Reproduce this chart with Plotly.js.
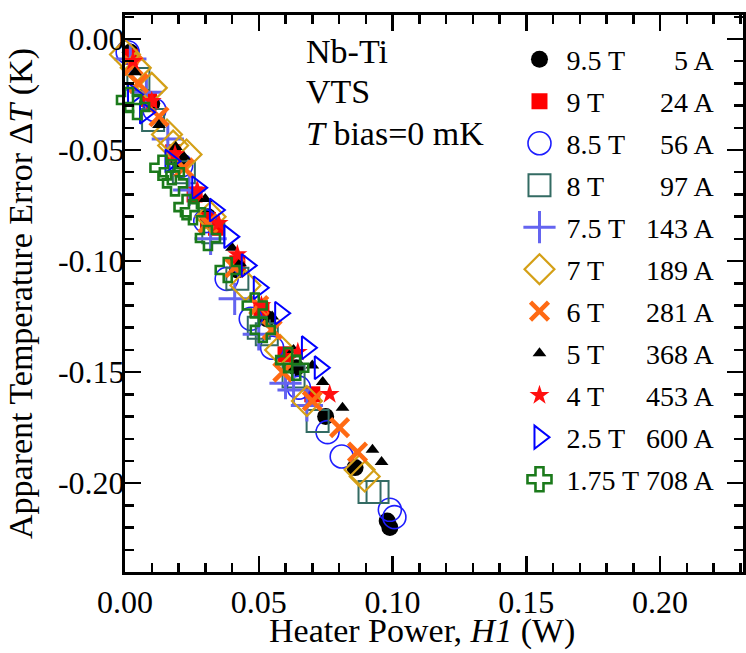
<!DOCTYPE html>
<html>
<head>
<meta charset="utf-8">
<script src="https://cdn.plot.ly/plotly-3.0.1.min.js"></script>
<style>html,body{margin:0;padding:0;background:#fff;}#chart{width:746px;height:653px;}</style>
</head>
<body>
<div id="chart"></div>
<script>
// ---- legend labels ----
const fields   = ['9.5 T','9 T','8.5 T','8 T','7.5 T','7 T','6 T','5 T','4 T','2.5 T','1.75 T'];
const currents = ['5 A','24 A','56 A','97 A','143 A','189 A','281 A','368 A','453 A','600 A','708 A'];

// ---- tick labels ----
const xTickVals = [0, 0.05, 0.10, 0.15, 0.20];
const xTickText = ['0.00', '0.05', '0.10', '0.15', '0.20'];
const yTickVals = [0, -0.05, -0.10, -0.15, -0.20];
const yTickText = ['0.00', '-0.05', '-0.10', '-0.15', '-0.20'];

// ---- data: heater power H1 (W) vs apparent temperature error dT (K) ----
const x95 = [0.002, 0.010, 0.020, 0.031, 0.042, 0.053, 0.064, 0.075, 0.086, 0.098, 0.099];
const y95 = [-0.006, -0.029, -0.054, -0.080, -0.104, -0.126, -0.148, -0.170, -0.193, -0.217, -0.220];

const x9 = [0.002, 0.009, 0.018, 0.026, 0.031, 0.034, 0.042, 0.051, 0.060, 0.070];
const y9 = [-0.008, -0.027, -0.051, -0.070, -0.0815, -0.085, -0.101, -0.122, -0.142, -0.160];

const x85 = [0.001, 0.011, 0.021, 0.030, 0.038, 0.047, 0.055, 0.065, 0.0757, 0.081, 0.099, 0.1007];
const y85 = [-0.006, -0.032, -0.057, -0.082, -0.108, -0.126, -0.139, -0.157, -0.177, -0.188, -0.212, -0.2153];

const x8 = [-0.002, 0.005, 0.0105, 0.022, 0.033, 0.042, 0.050, 0.053, 0.063, 0.072, 0.0914, 0.0944];
const y8 = [-0.004, -0.018, -0.0365, -0.060, -0.087, -0.108, -0.130, -0.133, -0.152, -0.172, -0.204, -0.204];

const x75 = [0.002, 0.008, 0.016, 0.024, 0.032, 0.041, 0.050, 0.060, 0.063, 0.068];
const y75 = [-0.009, -0.024, -0.045, -0.068, -0.090, -0.117, -0.133, -0.155, -0.158, -0.165];

const x7 = [0.000, 0.004, 0.010, 0.0157, 0.018, 0.023, 0.032, 0.045, 0.058, 0.068, 0.0877, 0.0896];
const y7 = [-0.007, -0.013, -0.022, -0.043, -0.048, -0.052, -0.080, -0.111, -0.140, -0.163, -0.194, -0.197];

const x6 = [0.003, 0.005, 0.0127, 0.022, 0.031, 0.041, 0.050, 0.055, 0.059, 0.070, 0.0802, 0.0869];
const y6 = [-0.012, -0.020, -0.035, -0.058, -0.083, -0.103, -0.120, -0.131, -0.150, -0.163, -0.175, -0.186];

const x5 = [0.0037, 0.0127, 0.019, 0.022, 0.030, 0.040, 0.043, 0.055, 0.063, 0.070, 0.0739, 0.0813, 0.0925, 0.0959];
const y5 = [-0.015, -0.0387, -0.0486, -0.053, -0.072, -0.094, -0.101, -0.125, -0.140, -0.147, -0.1545, -0.166, -0.185, -0.1905];

const x4 = [0.003, 0.010, 0.0187, 0.027, 0.035, 0.042, 0.051, 0.0646, 0.0765];
const y4 = [-0.010, -0.028, -0.052, -0.068, -0.083, -0.097, -0.120, -0.141, -0.160];

const x25 = [0.003, 0.0075, 0.017, 0.027, 0.0336, 0.039, 0.0455, 0.050, 0.058, 0.068, 0.0728];
const y25 = [-0.025, -0.033, -0.055, -0.067, -0.077, -0.089, -0.102, -0.112, -0.1235, -0.139, -0.148];

const x175 = [0.0015, 0.0045, 0.014, 0.0175, 0.0187, 0.023, 0.0254, 0.031, 0.0384, 0.0485, 0.0515, 0.061, 0.064];
const y175 = [-0.0275, -0.0306, -0.058, -0.060, -0.065, -0.0757, -0.078, -0.0896, -0.104, -0.120, -0.131, -0.1446, -0.148];

// ---- styles ----
const FONT = '"Liberation Serif", "Times New Roman", Times, serif';
const series = [
  {x: x95,  y: y95,  symbol: 'circle',              color: '#000000', size: 17, lw: 0},
  {x: x9,   y: y9,   symbol: 'square',              color: '#FF0000', size: 16, lw: 0},
  {x: x85,  y: y85,  symbol: 'circle-open',         color: '#1E1EFF', size: 23, lw: 1.6},
  {x: x8,   y: y8,   symbol: 'square-open',         color: '#336B63', size: 22, lw: 2},
  {x: x75,  y: y75,  symbol: 'cross-thin-open',     color: '#6464F0', size: 23, lw: 3},
  {x: x7,   y: y7,   symbol: 'diamond-open',        color: '#D4A017', size: 23, lw: 2.2},
  {x: x6,   y: y6,   symbol: 'x-thin-open',         color: '#FF6A13', size: 18, lw: 4.5},
  {x: x5,   y: y5,   symbol: 'triangle-up',         color: '#000000', size: 12, lw: 0},
  {x: x4,   y: y4,   symbol: 'star',                color: '#FF1010', size: 15, lw: 0},
  {x: x25,  y: y25,  symbol: 'triangle-right-open', color: '#0000FF', size: 20, lw: 2},
  {x: x175, y: y175, symbol: 'cross-open',          color: '#1B7A1B', size: 20, lw: 2.6}
];

// pad legend names so the current column is right-aligned
const ctx = document.createElement('canvas').getContext('2d');
ctx.font = '28px "Liberation Serif"';
const nb = '\u00a0';
const wNb = ctx.measureText(nb).width || 7;
const TARGET = 146;
function padName(f, c) {
  const gap = TARGET - ctx.measureText(f).width - ctx.measureText(c).width;
  const n = Math.max(1, Math.round(gap / wNb));
  return f + nb.repeat(n) + c;
}

const traces = series.map((s, i) => ({
  type: 'scatter', mode: 'markers',
  x: s.x, y: s.y,
  name: padName(fields[i], currents[i]),
  legendgroup: 'g' + i,
  cliponaxis: false,
  marker: {symbol: s.symbol, size: s.size, color: s.color,
           line: {width: s.lw, color: s.color}},
  hoverinfo: 'x+y+name'
}));

const axisCommon = {
  showline: true, linewidth: 3, linecolor: '#000', mirror: 'allticks',
  ticks: 'inside', ticklen: 16, tickwidth: 2.5, tickcolor: '#000',
  showgrid: false, zeroline: false,
  tickfont: {family: FONT, size: 32, color: '#000'},
  tickmode: 'array'
};

const layout = {
  width: 746, height: 653,
  margin: {l: 125, r: 3, t: 15, b: 81},
  paper_bgcolor: '#fff', plot_bgcolor: '#fff',
  font: {family: FONT, color: '#000'},
  showlegend: true,
  legend: {x: 0.627, y: 0.965, xanchor: 'left', yanchor: 'top',
           font: {family: FONT, size: 28, color: '#000'},
           bgcolor: 'rgba(0,0,0,0)', borderwidth: 0, tracegroupgap: 2.6, itemwidth: 44},
  xaxis: Object.assign({}, axisCommon, {
    range: [0, 0.231], tickvals: xTickVals, ticktext: xTickText,
    minor: {tickmode: 'linear', tick0: 0, dtick: 0.01, ticks: 'inside', ticklen: 9, tickwidth: 2.5, tickcolor: '#000', showgrid: false}
  }),
  yaxis: Object.assign({}, axisCommon, {
    range: [-0.24, 0.0108], tickvals: yTickVals, ticktext: yTickText, ticklabelstandoff: -9,
    minor: {tickmode: 'linear', tick0: 0, dtick: 0.01, ticks: 'inside', ticklen: 9, tickwidth: 2.5, tickcolor: '#000', showgrid: false},
    title: {text: 'Apparent Temperature Error \u0394<i>T</i> (K)', font: {family: FONT, size: 34, color: '#000'}, standoff: 16}
  }),
  annotations: [
    {xref: 'paper', yref: 'paper', x: 0.48, y: -0.106, xanchor: 'center', yanchor: 'middle', showarrow: false,
     text: 'Heater Power, <i>H1</i> (W)', font: {family: FONT, size: 34, color: '#000'}},
    {xref: 'paper', yref: 'paper', x: 0.29, y: 0.934, xanchor: 'left', yanchor: 'middle', showarrow: false,
     text: 'Nb-Ti', font: {family: FONT, size: 34, color: '#000'}},
    {xref: 'paper', yref: 'paper', x: 0.29, y: 0.862, xanchor: 'left', yanchor: 'middle', showarrow: false,
     text: 'VTS', font: {family: FONT, size: 34, color: '#000'}},
    {xref: 'paper', yref: 'paper', x: 0.29, y: 0.788, xanchor: 'left', yanchor: 'middle', showarrow: false,
     text: '<i>T</i> bias=0 mK', font: {family: FONT, size: 34, color: '#000'}}
  ]
};

Plotly.newPlot('chart', traces, layout, {displayModeBar: false, staticPlot: true}).then(gd => {
  // enlarge legend symbols to the trace marker sizes (legend clamps at 16px)
  const groups = gd.querySelectorAll('.legend .traces');
  groups.forEach((g, i) => {
    const s = series[i];
    if (!s) return;
    const k = s.size / Math.min(s.size, 16);
    if (k === 1) return;
    g.querySelectorAll('.legendpoints path.scatterpts').forEach(p => {
      const t = p.getAttribute('transform') || '';
      p.setAttribute('transform', t + ' scale(' + k + ')');
      if (s.lw > 0) p.style.strokeWidth = (s.lw / k) + 'px';
    });
  });
});
</script>
</body>
</html>
